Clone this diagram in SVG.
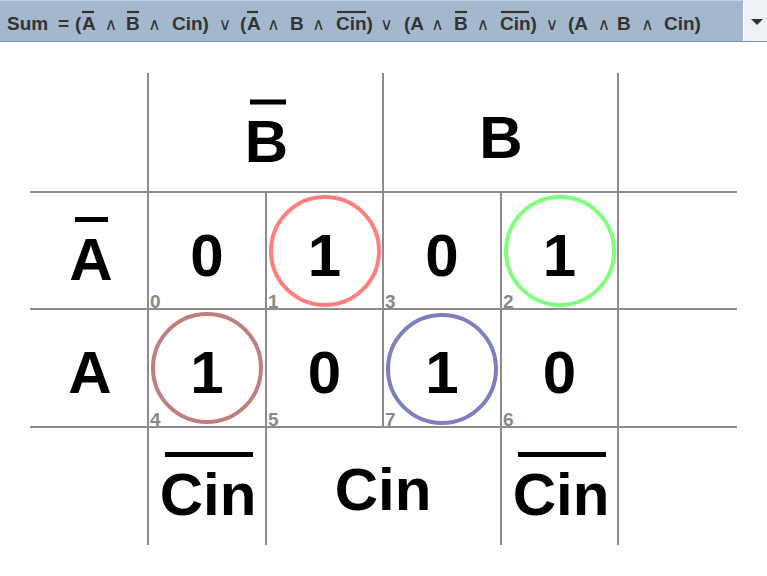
<svg xmlns="http://www.w3.org/2000/svg" width="767" height="576" viewBox="0 0 767 576">
<style>
.hdr{font-family:"Liberation Sans",Arial,sans-serif;font-weight:bold;font-size:19px;fill:#333}
.op{font-family:"DejaVu Sans","Liberation Sans",sans-serif;font-weight:normal;font-size:17px;fill:#333}
.hbar{stroke:#333;stroke-width:2.2}
.grid line{stroke:#8c8c8c;stroke-width:2}
.big{font-family:"Liberation Sans",Arial,sans-serif;font-weight:bold;font-size:60px;fill:#000;text-anchor:middle}
.bar{stroke:#000;stroke-width:5}
.idx{font-family:"Liberation Sans",Arial,sans-serif;font-weight:bold;font-size:19px;fill:#888}
.ring{fill:none;stroke-width:4}
</style>
<rect width="767" height="576" fill="#fff"/>
<g id="header">
<rect x="0" y="0" width="767" height="42" fill="#a3b8cc"/>
<line x1="0" y1="0.5" x2="743" y2="0.5" stroke="#c3d1df"/>
<line x1="0" y1="41.5" x2="767" y2="41.5" stroke="#7d8fa3"/>
<rect x="744" y="0" width="23" height="41" fill="#edf1f5"/>
<line x1="743.5" y1="0" x2="743.5" y2="41" stroke="#ffffff"/>
<polygon points="751,19 763,19 757,25" fill="#333"/>
<text class="hdr" y="29.5"><tspan x="7">Sum</tspan><tspan x="58">=</tspan><tspan x="75">(</tspan><tspan x="82">A</tspan><tspan class="op" x="111" text-anchor="middle">∧</tspan><tspan x="126">B</tspan><tspan class="op" x="154.5" text-anchor="middle">∧</tspan><tspan x="172">Cin)</tspan><tspan class="op" x="225" text-anchor="middle">∨</tspan><tspan x="240">(</tspan><tspan x="247">A</tspan><tspan class="op" x="273.5" text-anchor="middle">∧</tspan><tspan x="290">B</tspan><tspan class="op" x="318.5" text-anchor="middle">∧</tspan><tspan x="336">Cin)</tspan><tspan class="op" x="386.5" text-anchor="middle">∨</tspan><tspan x="404">(A</tspan><tspan class="op" x="437.5" text-anchor="middle">∧</tspan><tspan x="454">B</tspan><tspan class="op" x="483" text-anchor="middle">∧</tspan><tspan x="500">Cin)</tspan><tspan class="op" x="552" text-anchor="middle">∨</tspan><tspan x="568">(A</tspan><tspan class="op" x="604" text-anchor="middle">∧</tspan><tspan x="617">B</tspan><tspan class="op" x="647.5" text-anchor="middle">∧</tspan><tspan x="664">Cin)</tspan></text>
<line class="hbar" x1="82" y1="12" x2="94" y2="12"/>
<line class="hbar" x1="127" y1="12" x2="139" y2="12"/>
<line class="hbar" x1="247" y1="12" x2="258" y2="12"/>
<line class="hbar" x1="337" y1="12" x2="366" y2="12"/>
<line class="hbar" x1="455" y1="12" x2="467" y2="12"/>
<line class="hbar" x1="501" y1="12" x2="529" y2="12"/>
</g>
<g id="connectors" class="grid">
<line x1="30" y1="192" x2="737" y2="192"/>
<line x1="30" y1="309" x2="737" y2="309"/>
<line x1="30" y1="427" x2="737" y2="427"/>
<line x1="148" y1="73" x2="148" y2="545"/>
<line x1="266" y1="192" x2="266" y2="545"/>
<line x1="383" y1="73" x2="383" y2="427"/>
<line x1="501" y1="192" x2="501" y2="545"/>
<line x1="618" y1="73" x2="618" y2="545"/>
</g>
<g id="label-notB"><text class="big" x="266.5" y="162">B</text><line class="bar" x1="250" y1="102" x2="286" y2="102"/></g>
<g id="label-B"><text class="big" x="501" y="157.5">B</text></g>
<g id="label-notA"><text class="big" x="91" y="280">A</text><line class="bar" x1="75" y1="219.5" x2="108" y2="219.5"/></g>
<g id="label-A"><text class="big" x="90" y="392.5">A</text></g>
<g id="label-notCin-1"><text class="big" x="208" y="515">Cin</text><line class="bar" x1="165" y1="454.5" x2="253" y2="454.5"/></g>
<g id="label-Cin"><text class="big" x="383" y="510">Cin</text></g>
<g id="label-notCin-2"><text class="big" x="561" y="515">Cin</text><line class="bar" x1="518" y1="454.5" x2="606" y2="454.5"/></g>
<g id="cell-0"><text class="big" x="207" y="276">0</text><text class="idx" x="150" y="307.5">0</text></g>
<g id="cell-1"><circle class="ring" cx="325" cy="251" r="54" stroke="#ff7f7f"/><text class="big" x="324.5" y="276">1</text><text class="idx" x="268" y="307.5">1</text></g>
<g id="cell-3"><text class="big" x="442" y="276">0</text><text class="idx" x="385" y="307.5">3</text></g>
<g id="cell-2"><circle class="ring" cx="560" cy="251" r="54" stroke="#7fff7f"/><text class="big" x="559.5" y="276">1</text><text class="idx" x="503" y="307.5">2</text></g>
<g id="cell-4"><circle class="ring" cx="207" cy="368" r="54" stroke="#bf7f7f"/><text class="big" x="207" y="392.5">1</text><text class="idx" x="150" y="425.5">4</text></g>
<g id="cell-5"><text class="big" x="324.5" y="392.5">0</text><text class="idx" x="268" y="425.5">5</text></g>
<g id="cell-7"><circle class="ring" cx="442" cy="369" r="54" stroke="#7f7fbf"/><text class="big" x="442" y="392.5">1</text><text class="idx" x="385" y="425.5">7</text></g>
<g id="cell-6"><text class="big" x="559.5" y="392.5">0</text><text class="idx" x="503" y="425.5">6</text></g>
</svg>
